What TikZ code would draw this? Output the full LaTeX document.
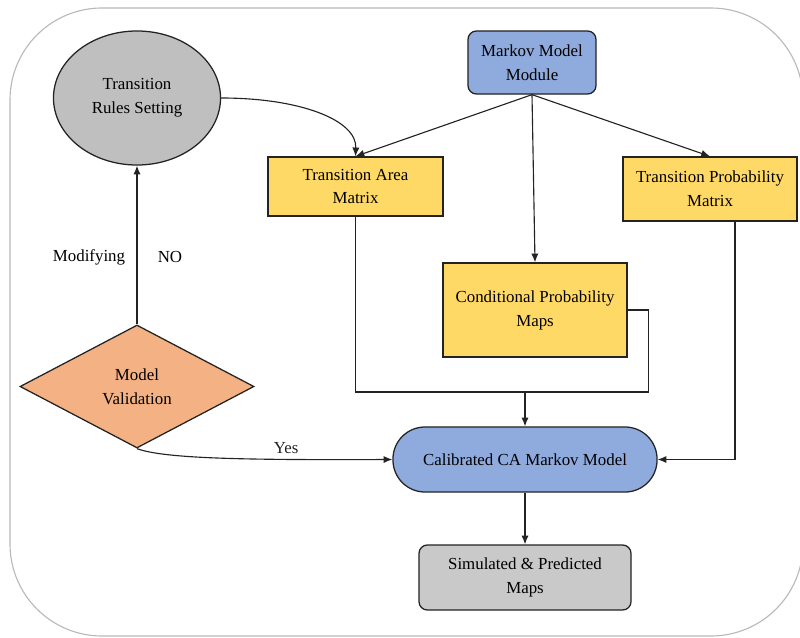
\documentclass[tikz,border=0pt]{standalone}
\usepackage{fontspec}
\setmainfont{Liberation Serif}
\usetikzlibrary{arrows.meta,positioning,calc,shapes.geometric}
\definecolor{lineblk}{RGB}{35,35,35}
\definecolor{framegray}{RGB}{185,185,185}
\definecolor{rulegray}{RGB}{191,191,191}
\definecolor{mblue}{RGB}{143,170,220}
\definecolor{myellow}{RGB}{255,217,102}
\definecolor{morange}{RGB}{244,177,131}
\definecolor{mapgray}{RGB}{201,201,201}
\tikzset{
  base/.style={draw=lineblk, line width=0.9pt, align=center, inner sep=2pt,
    font=\fontsize{12}{17}\selectfont, text=black},
  ybox/.style={base, fill=myellow},
  bbox/.style={base, fill=mblue, rounded corners=6pt},
  arr/.style={-{Latex[length=2.2mm,width=1.8mm]}, lineblk, line width=0.8pt},
  lin/.style={lineblk, line width=0.8pt},
  lbl/.style={font=\fontsize{12}{14}\selectfont},
}

\begin{document}
\begin{tikzpicture}[x=0.025cm, y=-0.025cm]
\useasboundingbox (0,0) rectangle (800,637);
\draw[framegray, thick, rounded corners=2.3cm] (10,8) rectangle (803,636);

% nodes
\node[base, ellipse, fill=rulegray, minimum width=4.175cm, minimum height=3.35cm,
      inner sep=0pt] (rules) at (137,98) {Transition\\Rules Setting};
\node[bbox, minimum width=3.2cm, minimum height=1.575cm] (mmm) at (532,62.5)
      {Markov Model\\Module};
\node[ybox, minimum width=4.375cm, minimum height=1.475cm] (tam) at (355.5,186.5)
      {Transition Area\\Matrix};
\node[ybox, minimum width=4.35cm, minimum height=1.6cm] (tpm) at (710,189)
      {Transition Probability\\Matrix};
\node[ybox, minimum width=4.6cm, minimum height=2.35cm] (cpm) at (535,310)
      {Conditional Probability\\Maps};
\node[base, diamond, fill=morange, minimum width=5.85cm, minimum height=3.075cm,
      aspect=1.9, inner sep=0pt] (mv) at (137,386.5) {Model\\Validation};
\node[base, fill=mblue, rounded corners=0.8cm, minimum width=6.6cm,
      minimum height=1.625cm] (cal) at (525,459.5) {Calibrated CA Markov Model};
\node[base, fill=mapgray, rounded corners=6pt, minimum width=5.3cm,
      minimum height=1.625cm] (sim) at (525,577.5) {Simulated \& Predicted\\Maps};
\coordinate (join) at (525,392);

% connectors
\draw[arr] (rules.east) .. controls (300,98) and (357,120) .. (tam.north);
\draw[arr] (mmm.south) -- (tam.north);
\draw[arr] (mmm.south) -- (cpm.north);
\draw[arr] (mmm.south) -- (tpm.north);
\draw[lin] (tam.south) |- (join);
\draw[lin] (cpm.east) -- ++(21,0) |- (join);
\draw[arr] (join) -- (cal.north);
\draw[arr] ([xshift=0.625cm]tpm.south) |- (cal.east);
\draw[arr] (mv.south) .. controls (165,459) and (250,460) .. (cal.west)
  node[lbl, pos=0.72, above] {Yes};
\draw[arr] (mv.north) -- (rules.south);
\node[lbl] (modif) at (89,257) {Modifying};
\node[lbl] (no) at (170,257) {NO};
\draw[arr] (cal.south) -- (sim.north);
\end{tikzpicture}
\end{document}
